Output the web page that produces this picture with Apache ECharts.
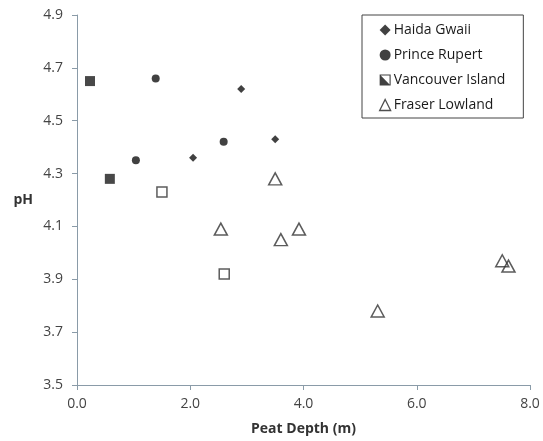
<!DOCTYPE html>
<html>
<head>
<meta charset="utf-8">
<script src="https://cdn.jsdelivr.net/npm/echarts@6/dist/echarts.min.js"></script>
<style>html,body{margin:0;padding:0;background:#fff}#c{width:543px;height:441px}</style>
</head>
<body>
<div id="c"></div>
<script>
// Data (x = peat depth m, y = pH)
const haidaGwaii = [[2.9, 4.62], [2.05, 4.36], [3.5, 4.43]];
const princeRupert = [[1.39, 4.66], [1.04, 4.35], [2.59, 4.42]];
const vancouverFilled = [[0.23, 4.65], [0.58, 4.28]];
const vancouverOpen = [[1.5, 4.23], [2.6, 3.92]];
const fraserLowland = [[3.5, 4.28], [2.54, 4.09], [3.6, 4.05], [3.92, 4.09], [5.31, 3.78], [7.51, 3.97], [7.62, 3.95]];
const xTicks = {min: 0, max: 8, interval: 2};
const yTicks = {min: 3.5, max: 4.9, interval: 0.2};

const font = '"Open Sans", "Noto Sans", sans-serif';
const axisColor = '#8a9ba8';
const chart = echarts.init(document.getElementById('c'), null, {renderer: 'canvas'});
chart.setOption({
  animation: false,
  backgroundColor: '#fff',
  grid: {left: 77, right: 13, top: 15, bottom: 53, containLabel: false},
  xAxis: {
    type: 'value', min: xTicks.min, max: xTicks.max, interval: xTicks.interval,
    name: 'Peat Depth (m)', nameLocation: 'middle', nameGap: 37,
    nameTextStyle: {fontFamily: font, fontSize: 14, fontWeight: 'bold', color: '#333'},
    axisLine: {show: true, lineStyle: {color: axisColor, width: 1}},
    axisTick: {show: true, inside: false, length: 5, lineStyle: {color: axisColor}},
    axisLabel: {margin: 12, fontFamily: font, fontSize: 14, color: '#444', formatter: v => v.toFixed(1)},
    splitLine: {show: false}
  },
  yAxis: {
    type: 'value', min: yTicks.min, max: yTicks.max, interval: yTicks.interval,
    name: 'pH', nameLocation: 'middle', nameGap: 44, nameRotate: 0,
    nameTextStyle: {fontFamily: font, fontSize: 14, fontWeight: 'bold', color: '#333'},
    axisLine: {show: true, lineStyle: {color: axisColor, width: 1}},
    axisTick: {show: true, inside: false, length: 5, lineStyle: {color: axisColor}},
    axisLabel: {margin: 14, fontFamily: font, fontSize: 14, color: '#444', formatter: v => v.toFixed(1)},
    splitLine: {show: false}
  },
  legend: {
    orient: 'vertical', left: 362, top: 15,
    padding: [7, 18, 5, 17], itemGap: 9, itemWidth: 11, itemHeight: 11,
    borderColor: '#444', borderWidth: 1, backgroundColor: '#fff',
    textStyle: {fontFamily: font, fontSize: 14, color: '#1a1a1a', lineHeight: 16, padding: [0, 0, 0, -2]},
    data: [
      {name: 'Haida Gwaii', icon: 'diamond', itemStyle: {color: '#111', borderWidth: 0}},
      {name: 'Prince Rupert', icon: 'circle', itemStyle: {color: '#111', borderWidth: 0}},
      {name: 'Vancouver Island', icon: 'path://M0,0 L10,0 L10,10 L0,10 Z M1,1 L1,9 L9,9 L9,1 Z M1,1 L9,9 L1,9 Z', itemStyle: {color: '#111', borderWidth: 0}},
      {name: 'Fraser Lowland', icon: 'triangle', itemStyle: {color: '#fff', borderColor: '#222', borderWidth: 1.3}}
    ]
  },
  series: [
    {name: 'Haida Gwaii', type: 'scatter', data: haidaGwaii, symbol: 'diamond', symbolSize: 8, itemStyle: {color: '#111'}, z: 3},
    {name: 'Prince Rupert', type: 'scatter', data: princeRupert, symbol: 'circle', symbolSize: 8, itemStyle: {color: '#111'}, z: 3},
    {name: 'Vancouver Island', type: 'scatter', data: vancouverFilled, symbol: 'rect', symbolSize: 10, itemStyle: {color: '#1a1a1a'}, z: 3},
    {name: 'Vancouver Island (open)', type: 'scatter', data: vancouverOpen, symbol: 'rect', symbolSize: 10, itemStyle: {color: '#fff', borderColor: '#333', borderWidth: 1.5}, z: 3},
    {name: 'Fraser Lowland', type: 'scatter', data: fraserLowland, symbol: 'triangle', symbolSize: [13, 12], itemStyle: {color: 'rgba(255,255,255,0)', borderColor: '#333', borderWidth: 1.5}, z: 3}
  ]
});
</script>
</body>
</html>
